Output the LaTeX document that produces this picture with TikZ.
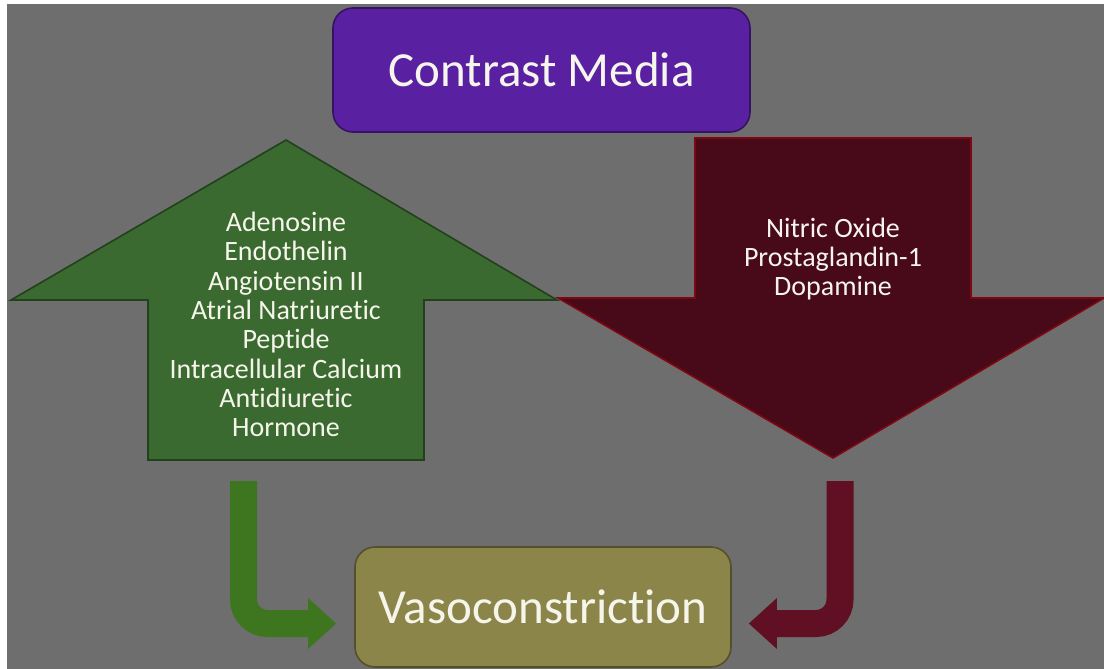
\documentclass[tikz,border=0pt]{standalone}
\usepackage{fontspec}
\setmainfont{Carlito}[Ligatures=CommonOff]
\usetikzlibrary{positioning, arrows.meta}

\definecolor{bggray}{RGB}{110,110,110}
\definecolor{cmpurple}{RGB}{90,32,162}
\definecolor{upgreen}{RGB}{58,106,48}
\definecolor{downred}{RGB}{72,10,24}
\definecolor{vasoolive}{RGB}{140,133,74}
\definecolor{bentgreen}{RGB}{62,118,32}
\definecolor{bentred}{RGB}{96,16,34}
\definecolor{txtwhite}{RGB}{246,245,236}

\tikzset{
  titlebox/.style={rounded corners=10pt, line width=0.8pt, text=txtwhite,
    inner sep=0pt, font=\fontsize{24.5}{28}\selectfont},
  listtext/.style={text=txtwhite, align=center, font=\fontsize{14}{14.65}\selectfont},
  bent/.style={line width=13.5pt, rounded corners=12pt,
    -{Triangle[length=14pt,width=24.5pt]}},
}

\begin{document}
\begin{tikzpicture}[x=0.5pt, y=-0.5pt]
        \useasboundingbox (0,0) rectangle (1104,669); %picture size
        \fill[white] (0,0) rectangle (1104,669);
        \fill[bggray] (7,4) rectangle (1104,669); %slide background
        \fill[upgreen, draw=upgreen!60!black, line width=0.8pt] (286,140) -- (557,300) -- (424,300) -- (424,460)
            -- (148,460) -- (148,300) -- (11,300) -- cycle; %up arrow
        \fill[downred, draw=downred!70!red, line width=0.8pt] (695,138) -- (971,138) -- (971,298) -- (1104,298)
            -- (833,458) -- (558,298) -- (695,298) -- cycle; %down arrow
        \node[titlebox, fill=cmpurple, draw=cmpurple!60!black, minimum width=208.5pt, minimum height=62pt]
            (media) at (541.5,70) {Contrast Media};
        \node[titlebox, fill=vasoolive, draw=vasoolive!60!black, minimum width=188pt, minimum height=60pt]
            (vaso) at (543,607) {Vasoconstriction};
        \node[listtext] (uplist) at (286,324.5) {Adenosine\\Endothelin\\Angiotensin II\\Atrial Natriuretic\\
            Peptide\\Intracellular Calcium\\Antidiuretic\\Hormone};
        \node[listtext] (downlist) at (833,259) {Nitric Oxide\\Prostaglandin-1\\Dopamine};
        \coordinate (gfoot) at (243.5,481); %start of green bend
        \coordinate (rfoot) at (840,481); %start of red bend
        \draw[bent, bentgreen, shorten >=9pt] (gfoot) |- ([yshift=-8.25pt]vaso.west);
        \draw[bent, bentred, shorten >=8.5pt] (rfoot) |- ([yshift=-8.25pt]vaso.east);
\end{tikzpicture}
\end{document}
